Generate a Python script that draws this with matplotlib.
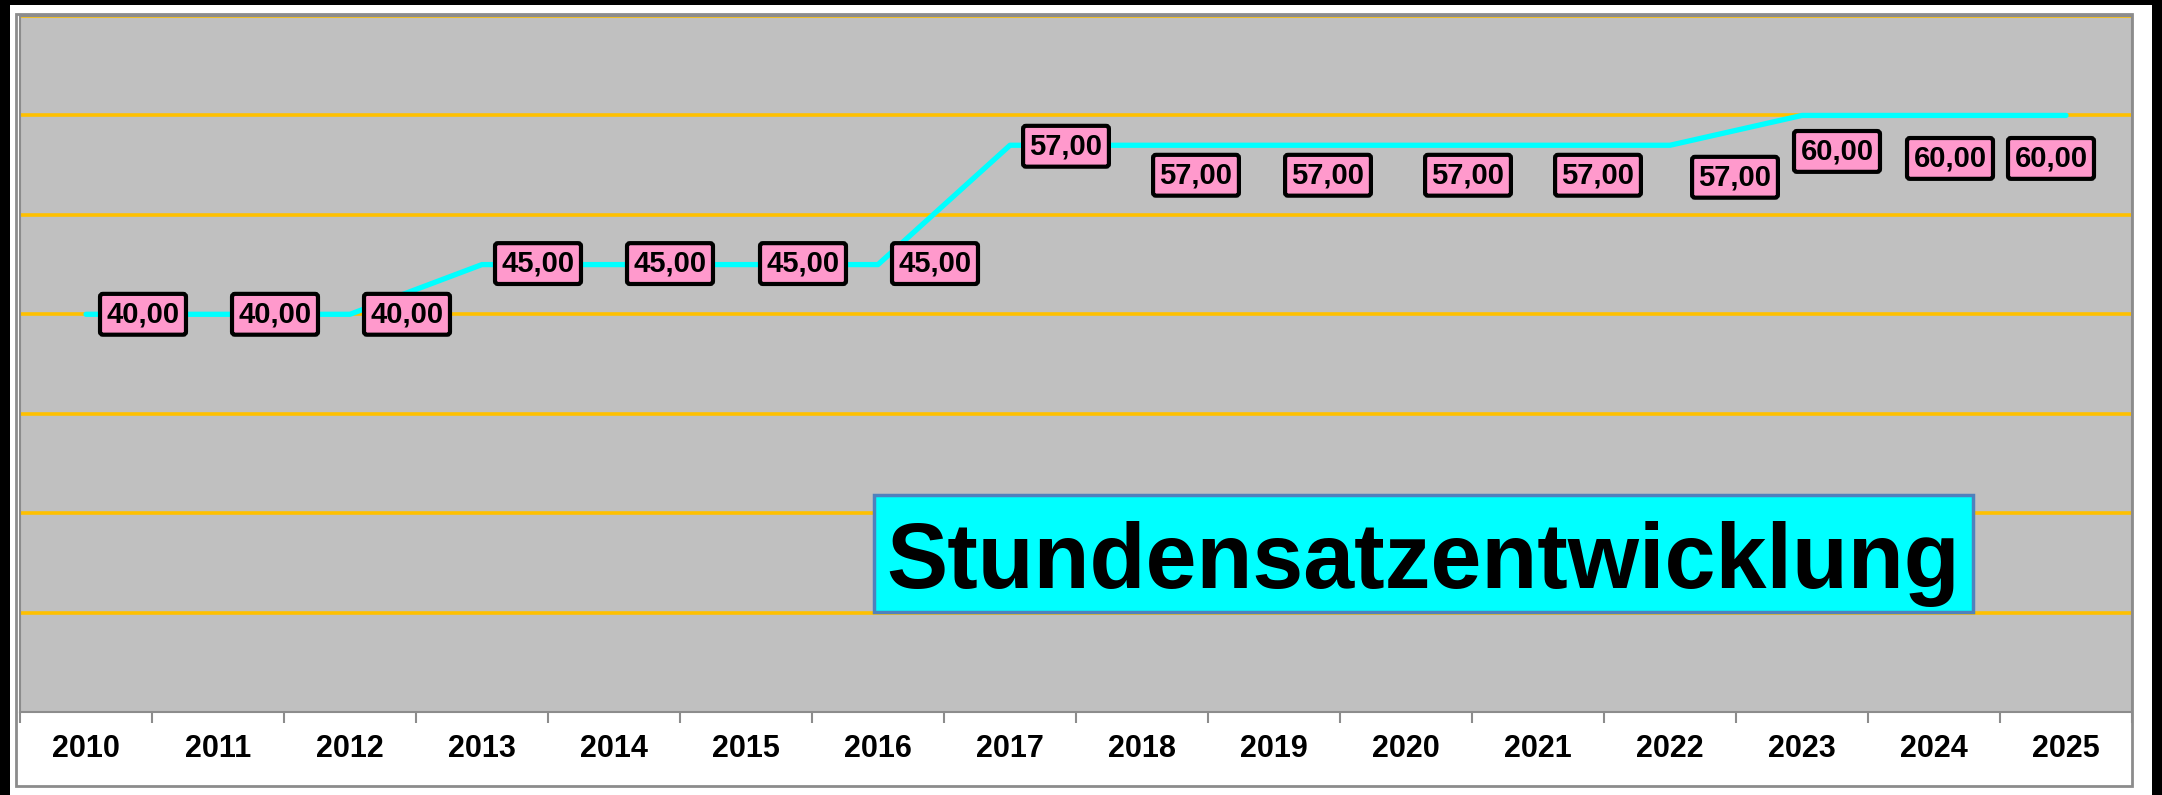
import matplotlib.pyplot as plt
from matplotlib.patches import Rectangle

# data
years = [2010, 2011, 2012, 2013, 2014, 2015, 2016, 2017,
         2018, 2019, 2020, 2021, 2022, 2023, 2024, 2025]
rates = [40, 40, 40, 45, 45, 45, 45, 57, 57, 57, 57, 57, 57, 60, 60, 60]
title = "Stundensatzentwicklung"

# label shifts in pixels (some were moved by hand in the original)
label_dx = [57, 57, 57, 56, 56, 57, 57, 56, 54, 54, 62, 60, 65, 35, 16, -15]
label_dy = [0, 0, 0, 1, 1, 1, 1, -1, -30, -30, -30, -30, -32, -36, -43, -43]

plt.rcParams['font.family'] = ['Liberation Sans', 'DejaVu Sans']

W, H = 2162, 795
fig = plt.figure(figsize=(W / 100, H / 100), dpi=100)
fig.patch.set_facecolor('white')

# black frame + chart area border
fig.add_artist(Rectangle((0, 0), 10 / W, 1, transform=fig.transFigure, color='black', lw=0))
fig.add_artist(Rectangle((0, 1 - 5 / H), 1, 5 / H, transform=fig.transFigure, color='black', lw=0))
fig.add_artist(Rectangle((1 - 10 / W, 0), 10 / W, 1, transform=fig.transFigure, color='black', lw=0))
fig.add_artist(Rectangle((16 / W, 1 - 786 / H), (2132 - 16) / W, (786 - 14) / H,
                         transform=fig.transFigure, fill=False, ec='#8c8c8c', lw=2))

ax = fig.add_axes([20 / W, 1 - 712 / H, (2132 - 20) / W, (712 - 16) / H])
ax.set_facecolor('#c0c0c0')
for s in ax.spines.values():
    s.set_color('#8c8c8c')
    s.set_linewidth(1.5)

idx = list(range(len(years)))
ax.set_xlim(-0.5, len(years) - 0.5)
ax.set_ylim(0, 70)
for g in range(10, 71, 10):
    ax.axhline(g, color='#ffc000', lw=2.6, zorder=1)

ax.plot(idx, rates, color='#00ffff', lw=3.8, solid_capstyle='round', zorder=2)

for i, (v, dx, dy) in enumerate(zip(rates, label_dx, label_dy)):
    txt = f"{v:.2f}".replace('.', ',')
    ax.annotate(txt, (i, v), xytext=(dx, dy), textcoords='offset pixels',
                ha='center', va='center', fontsize=21, fontweight='bold',
                bbox=dict(boxstyle='round,pad=0.22,rounding_size=0.1', fc='#ff99cc',
                          ec='black', lw=3),
                zorder=3)

ax.set_xticks([i - 0.5 for i in range(len(years) + 1)])
ax.set_xticklabels([])
ax.tick_params(axis='x', which='major', length=8, width=1.5, color='#8c8c8c', direction='out')
ax.set_xticks(idx, minor=True)
ax.set_xticklabels([str(y) for y in years], minor=True, fontsize=22, fontweight='bold')
ax.tick_params(axis='x', which='minor', length=0, pad=16)
ax.set_yticks([])

# title box
ax.add_patch(Rectangle((0.4044, 0.1437), 0.5203, 0.1681, transform=ax.transAxes,
                       fc='#00ffff', ec='#4f81bd', lw=2.5, zorder=4))
ax.text(0.6645, 0.178, title, transform=ax.transAxes, ha='center', va='baseline',
        fontsize=66, fontweight='bold', zorder=5)

fig.savefig('out.png', dpi=100)
